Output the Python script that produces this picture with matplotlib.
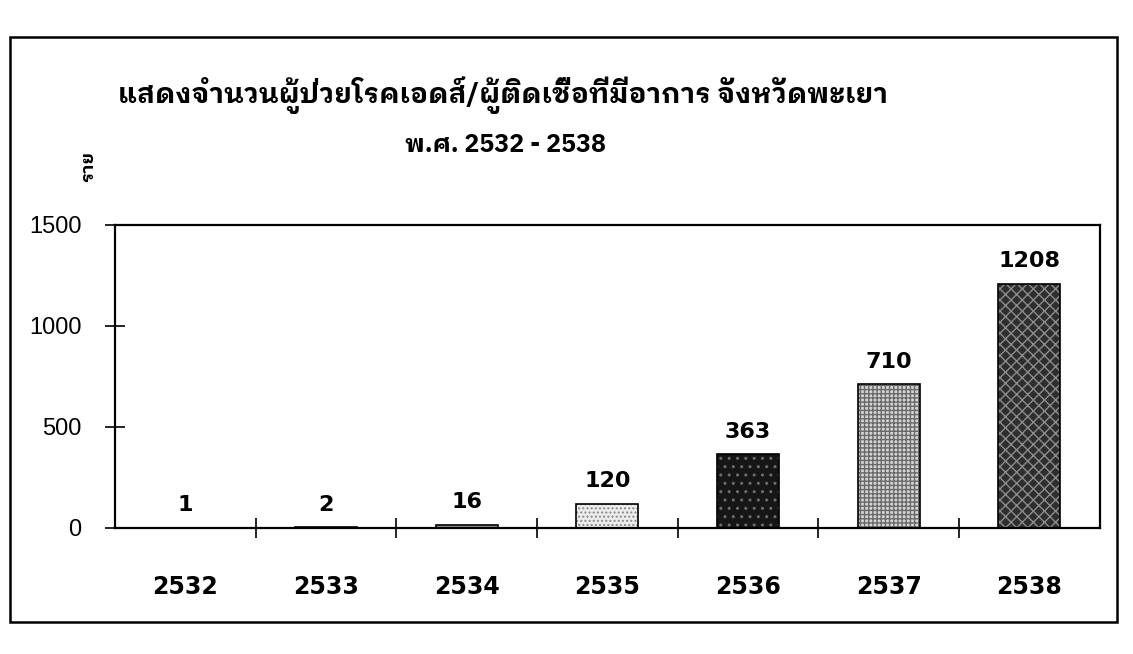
import matplotlib
matplotlib.use("Agg")
import matplotlib.pyplot as plt
from matplotlib.patches import Rectangle

# ข้อมูลจากภาพ: จำนวนผู้ป่วยโรคเอดส์/ผู้ติดเชื้อที่มีอาการ จังหวัดพะเยา
years = ["2532", "2533", "2534", "2535", "2536", "2537", "2538"]
cases = [1, 2, 16, 120, 363, 710, 1208]

title = "แสดงจำนวนผู้ป่วยโรคเอดส์/ผู้ติดเชื้อที่มีอาการ จังหวัดพะเยา"
subtitle = "พ.ศ. 2532 - 2538"
ylabel = "ราย"

THAI = ["IBM Plex Sans Thai Looped", "DejaVu Sans"]

# (facecolor, hatch colour, hatch) for each bar, like the scanned fills
fills = [
    ("#9a9a9a", "#555555", ""),
    ("#9a9a9a", "#555555", ""),
    ("#9a9a9a", "#555555", ""),
    ("#ededed", "#8a8a8a", "...."),
    ("#161616", "#6e6e6e", ".."),
    ("#d4d4d4", "#6a6a6a", "++++"),
    ("#2e2e2e", "#8c8c8c", "xxx"),
]

fig = plt.figure(figsize=(11.33, 6.54), dpi=100)
ax = fig.add_axes([0.1015, 0.193, 0.869, 0.463])

xs = list(range(len(years)))
for x, v, (fc, hc, hatch) in zip(xs, cases, fills):
    ax.bar(x, v, width=0.44, color=fc, edgecolor=hc, hatch=hatch, linewidth=0)
ax.bar(xs, cases, width=0.44, facecolor="none", edgecolor="black", linewidth=1.2)

for x, v in zip(xs, cases):
    ax.annotate(str(v), (x, v), xytext=(0, 9), textcoords="offset points",
                ha="center", va="bottom", fontsize=16, fontweight="bold",
                family="DejaVu Sans")

ax.set_xlim(-0.5, len(years) - 0.5)
ax.set_ylim(0, 1500)
ax.set_yticks([0, 500, 1000, 1500])
ax.set_xticks(xs)
ax.set_xticklabels(years, fontsize=17, fontweight="bold", family="DejaVu Sans")
ax.set_xticks([x + 0.5 for x in xs[:-1]], minor=True)
ax.tick_params(axis="x", which="major", length=0, pad=34)
ax.tick_params(axis="x", which="minor", direction="inout", length=14, width=1.2)
ax.tick_params(axis="y", direction="inout", length=14, width=1.2, pad=17,
               labelsize=17)
for lab in ax.get_yticklabels():
    lab.set_family("Liberation Sans")
for sp in ax.spines.values():
    sp.set_linewidth(1.6)

fig.text(0.104, 0.855, title, fontsize=20, fontweight="bold", family=THAI,
         ha="left", va="center")
fig.text(0.446, 0.778, subtitle, fontsize=18, fontweight="bold", family=THAI,
         ha="center", va="center")
fig.text(0.078, 0.745, ylabel, fontsize=13, fontweight="bold", family=THAI,
         rotation=90, ha="center", va="center")

fig.patches.append(Rectangle((0.009, 0.049), 0.977, 0.894, transform=fig.transFigure,
                             fill=False, edgecolor="black", linewidth=1.8))

fig.savefig("out.png", dpi=100)
